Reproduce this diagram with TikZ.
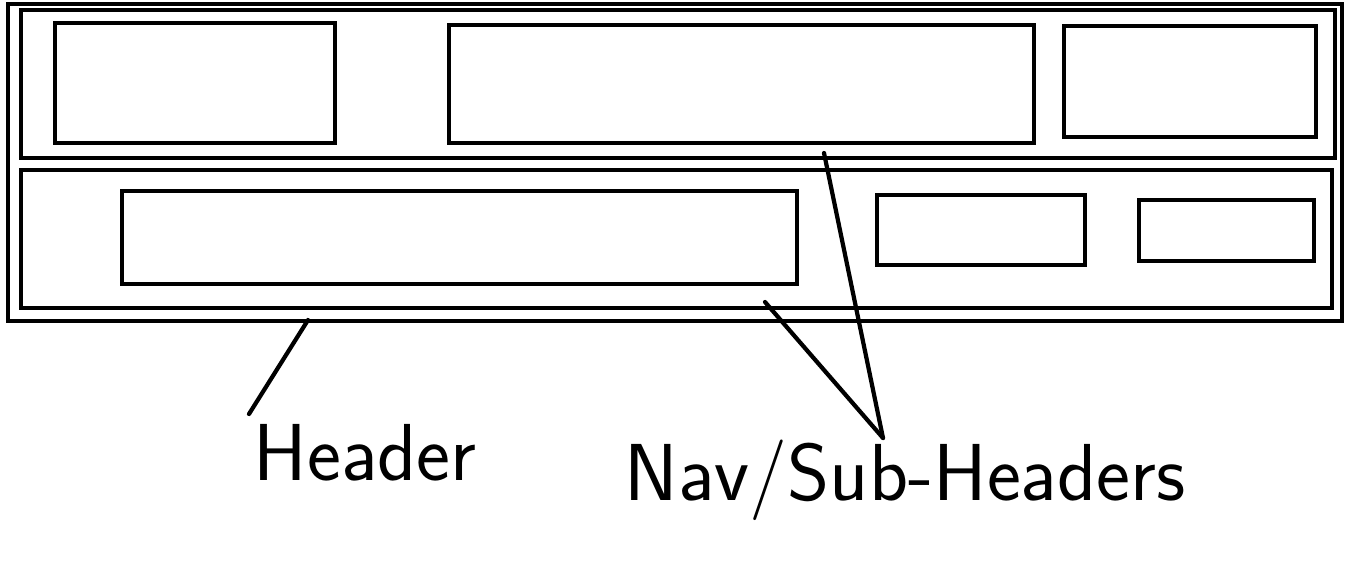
\documentclass[tikz,border=0pt]{standalone}
\usepackage{xcolor}
\usepackage{tikz}
\usetikzlibrary{positioning}

\begin{document}
\begin{tikzpicture}[
  box/.style={rectangle, draw, line width=2.3pt, inner sep=0pt},
  ptr/.style={line width=2.4pt, line cap=round},
  note/.style={font=\sffamily\fontsize{46}{52}\selectfont, inner sep=0pt},
]
  \useasboundingbox (0,0) rectangle (27.2,-11.22);
  \node[box, minimum width=26.68cm, minimum height=6.34cm] (frame) at (13.5,-3.25) {};
  \node[box, minimum width=26.28cm, minimum height=2.96cm] (topband) at (13.56,-1.68) {};
  \node[box, minimum width=26.22cm, minimum height=2.76cm] (subband) at (13.53,-4.78) {};
  \node[box, minimum width=5.6cm, minimum height=2.4cm] (logo) at (3.9,-1.66) {};
  \node[box, minimum width=11.7cm, minimum height=2.36cm] (topnav) at (14.83,-1.68) {};
  \node[box, minimum width=5.04cm, minimum height=2.22cm] (topright) at (23.8,-1.63) {};
  \node[box, minimum width=13.5cm, minimum height=1.86cm] (subnav) at (9.19,-4.75) {};
  \node[box, minimum width=4.16cm, minimum height=1.4cm] (submid) at (19.62,-4.6) {};
  \node[box, minimum width=3.5cm, minimum height=1.22cm] (subright) at (24.53,-4.61) {};
  \node[note] (header) at (7.3,-9.05) {Header};
  \node[note] (navsub) at (18.1,-9.6) {Nav/Sub-Headers};
  \coordinate (hdrfoot) at (6.16,-6.4);
  \coordinate (hdrtip) at (4.98,-8.28);
  \coordinate (navfoot) at (16.48,-3.06);
  \coordinate (subfoot) at (15.3,-6.04);
  \coordinate (navtip) at (17.66,-8.76);
  \draw[ptr] (hdrfoot) -- (hdrtip);
  \draw[ptr] (navfoot) -- (navtip);
  \draw[ptr] (subfoot) -- (navtip);
\end{tikzpicture}
\end{document}
